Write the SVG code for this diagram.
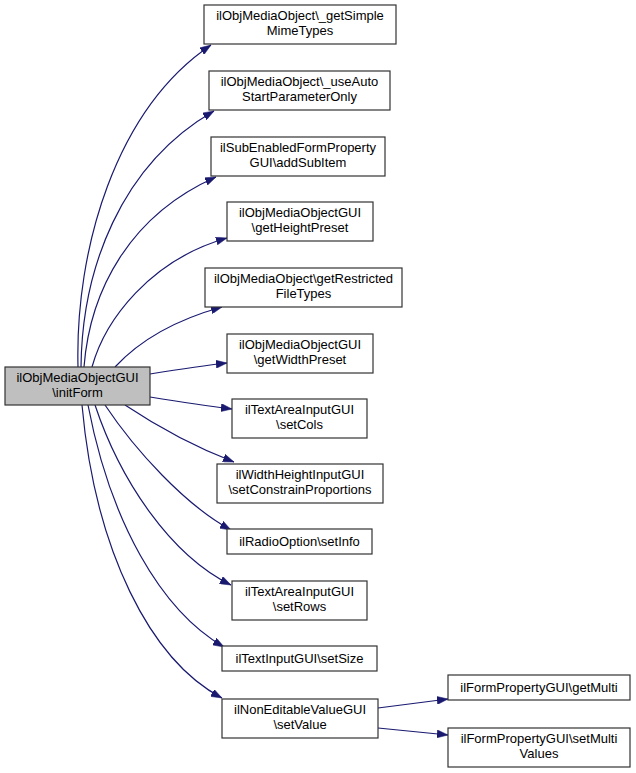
<svg xmlns="http://www.w3.org/2000/svg" width="636" height="773" viewBox="0 0 636 773">
<defs>
<style>
.n rect{fill:#fff;stroke:#333;stroke-width:1.2}
.n.root rect{fill:#bfbfbf}
.n text{font-family:"Liberation Sans",Arial,sans-serif;font-size:13px;text-anchor:middle;fill:#000}
.e path{fill:none;stroke:#191970;stroke-width:1.2}
</style>
<marker id="ah" viewBox="0 0 11 8" refX="11" refY="4" markerWidth="11" markerHeight="8" markerUnits="userSpaceOnUse" orient="auto">
<path d="M0,0 L11,4 L0,8 z" fill="#191970" stroke="#191970" stroke-width="0.5"/>
</marker>
</defs>
<rect width="636" height="773" fill="#fff"/>
<g id="edges" class="e">
<path marker-end="url(#ah)" d="M78,367 C75,250 115,110 211,45"/>
<path marker-end="url(#ah)" d="M81,367 C82,270 120,165 214,111"/>
<path marker-end="url(#ah)" d="M84,367 C90,290 130,215 216,177"/>
<path marker-end="url(#ah)" d="M92,367 C105,320 150,260 227,238"/>
<path marker-end="url(#ah)" d="M115,367 C140,340 175,320 222,307"/>
<path marker-end="url(#ah)" d="M150,374 C175,370 200,366 227,363"/>
<path marker-end="url(#ah)" d="M150,397 C175,401 200,405 232,409"/>
<path marker-end="url(#ah)" d="M125,405 C155,425 195,447 234,462"/>
<path marker-end="url(#ah)" d="M105,405 C135,450 185,505 231,530"/>
<path marker-end="url(#ah)" d="M95,405 C120,480 170,555 231,585"/>
<path marker-end="url(#ah)" d="M88,405 C110,520 160,610 224,647"/>
<path marker-end="url(#ah)" d="M82,405 C95,550 150,660 222,698"/>
<path marker-end="url(#ah)" d="M378,708 L448,699"/>
<path marker-end="url(#ah)" d="M378,728 L448,735"/>
</g>
<g id="root" class="n root"><rect x="5" y="367" width="145" height="38"/><text x="77.5" y="382">ilObjMediaObjectGUI</text><text x="77.5" y="397">\initForm</text></g>
<g id="n1" class="n"><rect x="204" y="5" width="192" height="39"/><text x="300" y="20">ilObjMediaObject\_getSimple</text><text x="300" y="35">MimeTypes</text></g>
<g id="n2" class="n"><rect x="209" y="71" width="181" height="39"/><text x="299.5" y="86">ilObjMediaObject\_useAuto</text><text x="299.5" y="101">StartParameterOnly</text></g>
<g id="n3" class="n"><rect x="211" y="137" width="174" height="39"/><text x="298" y="152">ilSubEnabledFormProperty</text><text x="298" y="167">GUI\addSubItem</text></g>
<g id="n4" class="n"><rect x="227" y="202" width="146" height="39"/><text x="300" y="217">ilObjMediaObjectGUI</text><text x="300" y="232">\getHeightPreset</text></g>
<g id="n5" class="n"><rect x="205" y="268" width="197" height="39"/><text x="303.5" y="283">ilObjMediaObject\getRestricted</text><text x="303.5" y="298">FileTypes</text></g>
<g id="n6" class="n"><rect x="227" y="334" width="146" height="39"/><text x="300" y="349">ilObjMediaObjectGUI</text><text x="300" y="364">\getWidthPreset</text></g>
<g id="n7" class="n"><rect x="232" y="399" width="135" height="39"/><text x="299.5" y="414">ilTextAreaInputGUI</text><text x="299.5" y="429">\setCols</text></g>
<g id="n8" class="n"><rect x="217" y="464" width="166" height="39"/><text x="300" y="479">ilWidthHeightInputGUI</text><text x="300" y="494">\setConstrainProportions</text></g>
<g id="n9" class="n"><rect x="227" y="529" width="145" height="25"/><text x="299.5" y="546">ilRadioOption\setInfo</text></g>
<g id="n10" class="n"><rect x="232" y="581" width="135" height="39"/><text x="299.5" y="596">ilTextAreaInputGUI</text><text x="299.5" y="611">\setRows</text></g>
<g id="n11" class="n"><rect x="222" y="646" width="155" height="25"/><text x="299.5" y="663">ilTextInputGUI\setSize</text></g>
<g id="n12" class="n"><rect x="222" y="699" width="156" height="39"/><text x="300" y="714">ilNonEditableValueGUI</text><text x="300" y="729">\setValue</text></g>
<g id="n13" class="n"><rect x="448" y="675" width="182" height="25"/><text x="539" y="692">ilFormPropertyGUI\getMulti</text></g>
<g id="n14" class="n"><rect x="448" y="728" width="182" height="39"/><text x="539" y="743">ilFormPropertyGUI\setMulti</text><text x="539" y="758">Values</text></g>
</svg>
